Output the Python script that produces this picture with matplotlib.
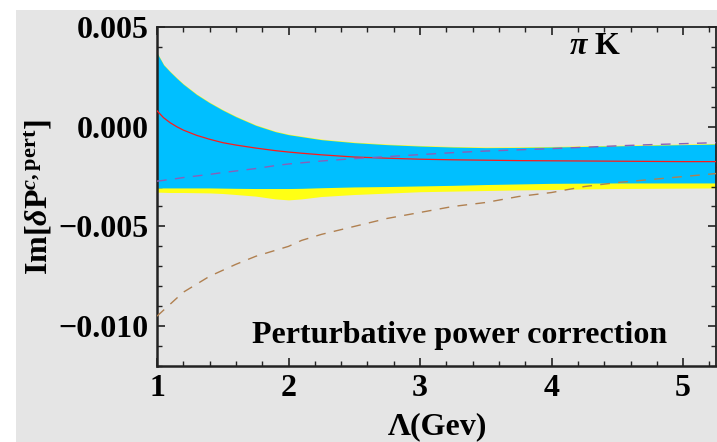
import matplotlib
matplotlib.use("Agg")
import matplotlib.pyplot as plt
from matplotlib.patches import Rectangle
from matplotlib.ticker import FixedLocator, MultipleLocator, FixedFormatter

plt.rcParams['font.family'] = ['Liberation Serif', 'DejaVu Serif']
plt.rcParams['font.weight'] = 'bold'
plt.rcParams['mathtext.fontset'] = 'custom'
plt.rcParams['mathtext.rm'] = 'Liberation Serif:bold'
plt.rcParams['mathtext.bf'] = 'Liberation Serif:bold'
plt.rcParams['mathtext.it'] = 'Liberation Serif:bold:italic'

# ---- data ----
lam = [1.0, 1.05, 1.1, 1.15, 1.2, 1.3, 1.4, 1.5, 1.6, 1.75, 1.9, 2.0, 2.1,
       2.25, 2.5, 2.75, 3.0, 3.25, 3.5, 3.75, 4.0, 4.25, 4.5, 4.75, 5.0, 5.25]
blue_upper = [0.0037, 0.0031, 0.00275, 0.00243, 0.00213, 0.00162, 0.0012,
              0.00083, 0.0005, 0.00007, -0.00025, -0.0004, -0.0005, -0.00065,
              -0.0008, -0.0009, -0.00097, -0.00102, -0.00105, -0.00104,
              -0.00102, -0.00099, -0.00096, -0.00093, -0.0009, -0.00087]
blue_lower = [-0.00307, -0.00307, -0.00307, -0.00307, -0.00307, -0.00307,
              -0.00307, -0.00308, -0.00309, -0.0031, -0.0031, -0.0031,
              -0.00309, -0.00306, -0.00302, -0.003, -0.00297, -0.00294,
              -0.0029, -0.00287, -0.00284, -0.00283, -0.00282, -0.00282,
              -0.00282, -0.00282]
yellow_upper = [0.00373, 0.00313, 0.00278, 0.00246, 0.00216, 0.00165, 0.00123,
                0.00086, 0.00053, 0.0001, -0.00022, -0.00037, -0.00047,
                -0.00062, -0.00077, -0.00087, -0.00094, -0.00099, -0.00102,
                -0.00101, -0.00099, -0.00096, -0.00093, -0.0009, -0.00087,
                -0.00084]
yellow_lower = [-0.00328, -0.00329, -0.0033, -0.0033, -0.0033, -0.00331,
                -0.00332, -0.00335, -0.0034, -0.00348, -0.00362, -0.00367,
                -0.00362, -0.0035, -0.0034, -0.00333, -0.00326, -0.00323,
                -0.0032, -0.00317, -0.00315, -0.00312, -0.0031, -0.00309,
                -0.00308, -0.00307]
central = [0.0008, 0.00045, 0.0002, 0.0, -0.00017, -0.00043, -0.00063,
           -0.0008, -0.00092, -0.00107, -0.0012, -0.00127, -0.00133,
           -0.00141, -0.00152, -0.00158, -0.00163, -0.00166, -0.00168,
           -0.0017, -0.00171, -0.00172, -0.00173, -0.00174, -0.00175,
           -0.00175]
purple_dashed = [-0.00273, -0.00269, -0.00264, -0.0026, -0.00255, -0.00247,
                 -0.00239, -0.0023, -0.00222, -0.0021, -0.00195, -0.00187,
                 -0.00181, -0.00172, -0.0016, -0.0015, -0.0014, -0.0013,
                 -0.00122, -0.00116, -0.0011, -0.00103, -0.00096, -0.0009,
                 -0.00085, -0.0008]
brown_dashed = [-0.0095, -0.0092, -0.0089, -0.0086, -0.0083, -0.0079,
                -0.0075, -0.0072, -0.0069, -0.0065, -0.0062, -0.006, -0.0057,
                -0.0054, -0.005, -0.0046, -0.0043, -0.004, -0.0038, -0.0035,
                -0.0033, -0.003, -0.0028, -0.00265, -0.0025, -0.00235]

x_ticks = [1, 2, 3, 4, 5]
x_ticklabels = ['1', '2', '3', '4', '5']
y_ticks = [0.005, 0.0, -0.005, -0.010]
y_ticklabels = ['0.005', '0.000', '\u22120.005', '\u22120.010']

GRAY = '#e5e5e5'
FS = 23

fig = plt.figure(figsize=(7.17, 4.42), dpi=100, facecolor='white')
fig.add_artist(Rectangle((16 / 717, 0), 1 - 16 / 717, 1 - 10 / 442,
                         transform=fig.transFigure, facecolor=GRAY,
                         edgecolor='none', zorder=-10))
ax = fig.add_axes([157 / 717, 1 - 366 / 442, 559 / 717, 339 / 442])
ax.set_facecolor(GRAY)

ax.fill_between(lam, yellow_lower, yellow_upper, color='#ffff14', lw=0, zorder=1)
ax.fill_between(lam, blue_lower, blue_upper, color='#00bfff', lw=0, zorder=2)
ax.plot(lam, central, color='#ff1a1a', lw=0.9, zorder=4)
ax.plot(lam, purple_dashed, color='#8a5fb8', lw=1.0, dashes=(7, 6), zorder=4)
ax.plot(lam, brown_dashed, color='#b08050', lw=1.0, dashes=(7, 6), zorder=4)

ax.set_xlim(1, 5.25)
ax.set_ylim(-0.012, 0.005)

ax.xaxis.set_major_locator(FixedLocator(x_ticks))
ax.xaxis.set_major_formatter(FixedFormatter(x_ticklabels))
ax.xaxis.set_minor_locator(MultipleLocator(0.2))
ax.yaxis.set_major_locator(FixedLocator(y_ticks))
ax.yaxis.set_major_formatter(FixedFormatter(y_ticklabels))
ax.yaxis.set_minor_locator(MultipleLocator(0.001))

ax.tick_params(which='both', direction='in', top=True, right=True,
               color='#222222')
ax.tick_params(which='major', length=6, width=1.2, labelsize=FS, pad=6)
ax.tick_params(which='minor', length=3.5, width=1.0)
for lab in ax.get_xticklabels() + ax.get_yticklabels():
    lab.set_fontweight('bold')

for side in ['left', 'bottom']:
    ax.spines[side].set_linewidth(1.8)
    ax.spines[side].set_color('#222222')
for side in ['top', 'right']:
    ax.spines[side].set_linewidth(1.3)
    ax.spines[side].set_color('#222222')

ax.text(0.502, (366 - 434) / 339, '\u039b(Gev)', transform=ax.transAxes,
        ha='center', va='baseline', fontsize=FS, fontweight='bold')
ax.text((48 - 157) / 559, (366 - 197) / 339,
        r'Im$[\delta\mathrm{P}^{c\mathrm{,pert}}]$',
        transform=ax.transAxes, rotation=90, rotation_mode='anchor',
        ha='center', va='baseline', fontsize=FS, fontweight='bold')
ax.text((595 - 157) / 559, (366 - 54) / 339, r'$\pi$ K', transform=ax.transAxes,
        ha='center', va='baseline', fontsize=FS, fontweight='bold')
ax.text((460 - 157) / 559, (366 - 343) / 339, 'Perturbative power correction',
        transform=ax.transAxes, ha='center', va='baseline', fontsize=FS,
        fontweight='bold')

fig.savefig('out.png', dpi=100, facecolor='white')
